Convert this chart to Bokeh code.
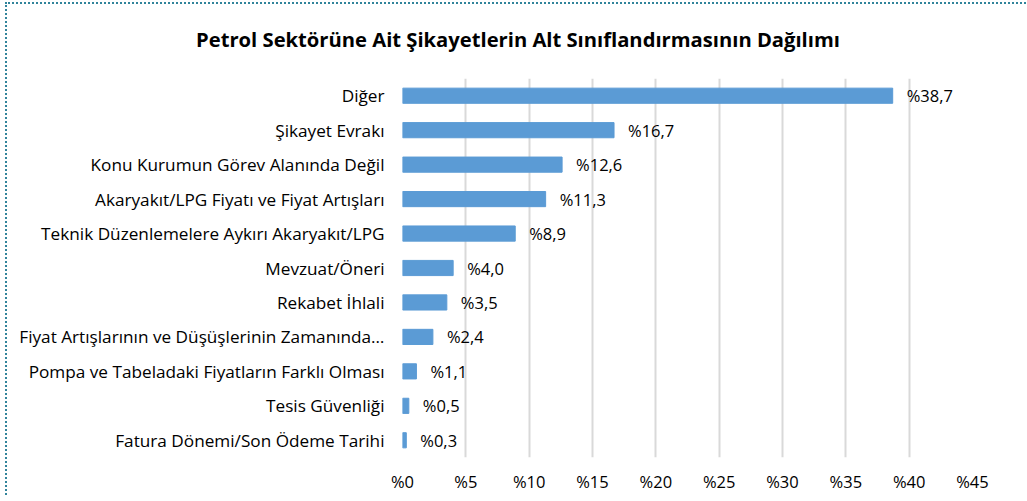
from bokeh.plotting import figure
from bokeh.models import (ColumnDataSource, FactorRange, Range1d, FixedTicker,
                          CustomJSTickFormatter, LabelSet, Div)
from bokeh.core.properties import value
from bokeh.layouts import column
from bokeh.embed import file_html
from bokeh.resources import INLINE

categories = [
    "Diğer",
    "Şikayet Evrakı",
    "Konu Kurumun Görev Alanında Değil",
    "Akaryakıt/LPG Fiyatı ve Fiyat Artışları",
    "Teknik Düzenlemelere Aykırı Akaryakıt/LPG",
    "Mevzuat/Öneri",
    "Rekabet İhlali",
    "Fiyat Artışlarının ve Düşüşlerinin Zamanında…",
    "Pompa ve Tabeladaki Fiyatların Farklı Olması",
    "Tesis Güvenliği",
    "Fatura Dönemi/Son Ödeme Tarihi",
]
values = [38.7, 16.7, 12.6, 11.3, 8.9, 4.0, 3.5, 2.4, 1.1, 0.5, 0.3]
value_labels = ["%38,7", "%16,7", "%12,6", "%11,3", "%8,9", "%4,0", "%3,5",
                "%2,4", "%1,1", "%0,5", "%0,3"]
x_ticks = [0, 5, 10, 15, 20, 25, 30, 35, 40, 45]
title_text = "Petrol Sektörüne Ait Şikayetlerin Alt Sınıflandırmasının Dağılımı"

FONT = "Open Sans"

src = ColumnDataSource(dict(cat=categories, val=values, lab=value_labels))

p = figure(width=1012, height=426, output_backend="svg", toolbar_location=None,
           y_range=FactorRange(factors=list(reversed(categories))),
           x_range=Range1d(0, 45),
           min_border_left=395, min_border_right=47, min_border_top=9,
           min_border_bottom=38)

p.hbar(y="cat", right="val", left=0, height=0.44, source=src,
       fill_color="#5B9BD5", line_color="#5B9BD5")

p.add_layout(LabelSet(x="val", y="cat", text="lab", source=src, x_offset=14,
                      text_baseline="middle", text_align="left",
                      text_font=value(FONT), text_font_size="16.5px",
                      text_color="#000000"))

p.xaxis.ticker = FixedTicker(ticks=x_ticks)
p.xaxis.formatter = CustomJSTickFormatter(code="return '%' + tick;")
p.xaxis.axis_line_color = None
p.xaxis.major_tick_line_color = None
p.xaxis.minor_tick_line_color = None
p.xaxis.major_label_standoff = 6
p.xaxis.major_label_text_font = FONT
p.xaxis.major_label_text_font_size = "16.5px"
p.xaxis.major_label_text_color = "#000000"

p.yaxis.axis_line_color = None
p.yaxis.major_tick_line_color = None
p.yaxis.minor_tick_line_color = None
p.yaxis.major_label_standoff = 12
p.yaxis.major_label_text_font = FONT
p.yaxis.major_label_text_font_size = "17.2px"
p.yaxis.major_label_text_color = "#000000"

p.xgrid.ticker = FixedTicker(ticks=x_ticks)
p.xgrid.grid_line_color = "#D9D9D9"
p.xgrid.grid_line_width = 2
p.ygrid.grid_line_color = None
p.outline_line_color = None

title = Div(text=title_text, width=1012, height=55,
            styles={"text-align": "center", "font-family": FONT,
                    "font-weight": "bold", "font-size": "20.2px",
                    "color": "#000000", "padding-top": "16px",
                    "box-sizing": "border-box", "width": "1012px"})

layout = column(title, p, styles={"border-top": "2px dotted #31849B",
                                  "border-left": "2px dotted #31849B",
                                  "margin-left": "5px", "margin-top": "2px"})

open("out.html", "w").write(file_html(layout, INLINE))
